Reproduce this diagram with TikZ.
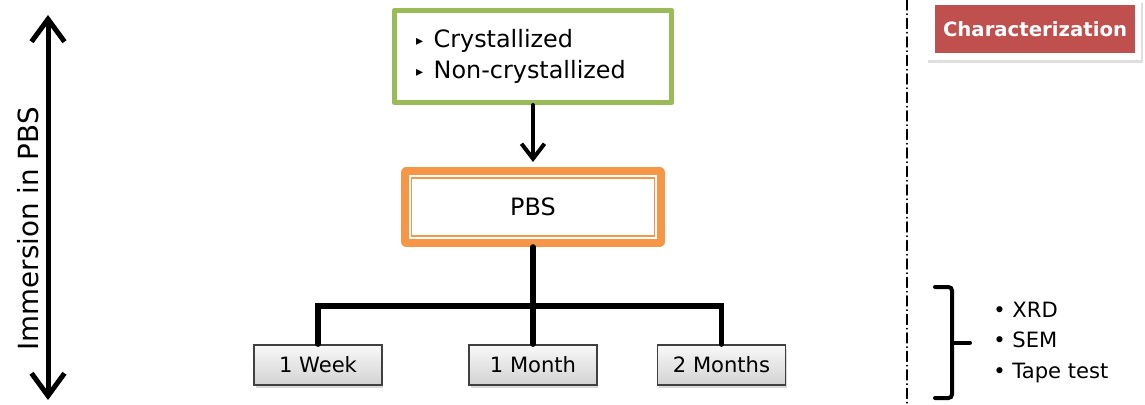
\documentclass[tikz,border=0pt]{standalone}
\usepackage{fontspec}
\setmainfont{DejaVu Sans}
\usetikzlibrary{arrows.meta,shadows}
\definecolor{boxgreen}{RGB}{155,187,89}
\definecolor{boxorange}{RGB}{247,150,70}
\definecolor{charred}{RGB}{192,80,77}
\newcommand{\tri}{\raisebox{1.2pt}{\fontsize{8pt}{8pt}\selectfont ▸}\hspace{6pt}}

\begin{document}
\begin{tikzpicture}[x=0.02cm,y=-0.02cm,line cap=round,
    period/.style={draw=black!75,line width=1pt,top color=gray!5,bottom color=gray!35,
        minimum width=2.56cm,minimum height=0.8cm,font=\fontsize{12pt}{14pt}\selectfont,
        drop shadow={opacity=0.3,shadow xshift=0.03cm,shadow yshift=-0.07cm}},
    stem/.style={line width=0.11cm},
    bracket/.style={line width=0.08cm,rounded corners=2pt}]
    \useasboundingbox (0,0) rectangle (1145,405);

    % time axis on the left
    \coordinate (immtop) at (48,15);
    \coordinate (immbot) at (48,400);
    \draw[line width=0.1cm,{Straight Barb[length=0.45cm,width=0.66cm]}-{Straight Barb[length=0.45cm,width=0.66cm]}] (immtop) -- (immbot);
    \node[rotate=90,font=\fontsize{15.8pt}{18pt}\selectfont] (immlabel) at (28,229) {Immersion in PBS};

    % samples and medium
    \node[draw=boxgreen,line width=0.1cm,line join=round,minimum height=1.84cm,text width=4.68cm,
        inner xsep=0.44cm,align=left,font=\fontsize{13.6pt}{18.1pt}\selectfont] (samples) at (533,56.5)
        {\tri Crystallized\\\tri Non-crystallized};
    \node[draw=boxorange,line width=0.23cm,line join=round,minimum width=5.07cm,minimum height=1.37cm,
        font=\fontsize{13.6pt}{16pt}\selectfont] (pbs) at (533,207) {PBS};
    \draw[white,line width=0.04cm] ([shift={(0.18cm,-0.18cm)}]pbs.north west) rectangle ([shift={(-0.18cm,0.18cm)}]pbs.south east);
    \draw[line width=0.08cm,-{Straight Barb[length=0.3cm,width=0.46cm]}] (samples.south) -- ([yshift=0.1cm]pbs.north);

    % immersion times
    \node[period] (week) at (318,365) {1 Week};
    \node[period] (month) at (533,365) {1 Month};
    \node[period] (months) at (721.5,365) {2 Months};
    \coordinate (split) at (533,306);
    \draw[stem] (pbs.south) -- (split);
    \draw[stem] (week.north) |- (split) -| (months.north);
    \draw[stem] (split) -- (month.north);

    % separator
    \draw[line width=0.03cm,dash pattern=on 0.2cm off 0.08cm on 0.01cm off 0.08cm] (907,0) -- (907,405);

    % characterization
    \node[fill=white,minimum width=4.26cm,minimum height=1.2cm,
        drop shadow={opacity=0.25,shadow xshift=0.02cm,shadow yshift=-0.06cm,shadow scale=1.01}] (charframe) at (1034.5,30) {};
    \node[fill=charred,minimum width=4cm,minimum height=0.96cm,text=white,
        font=\bfseries\fontsize{11.2pt}{13pt}\selectfont] (charact) at (1035,29) {Characterization};
    \draw[bracket] (935,287) -- (952,287) -- (952,398) -- (935,398);
    \draw[bracket] (952,342.5) -- (970,342.5);
    \node[anchor=west,inner sep=0,align=left,font=\fontsize{12pt}{17.6pt}\selectfont] (tests) at (993,342.5)
        {• XRD\\• SEM\\• Tape test};
\end{tikzpicture}
\end{document}
